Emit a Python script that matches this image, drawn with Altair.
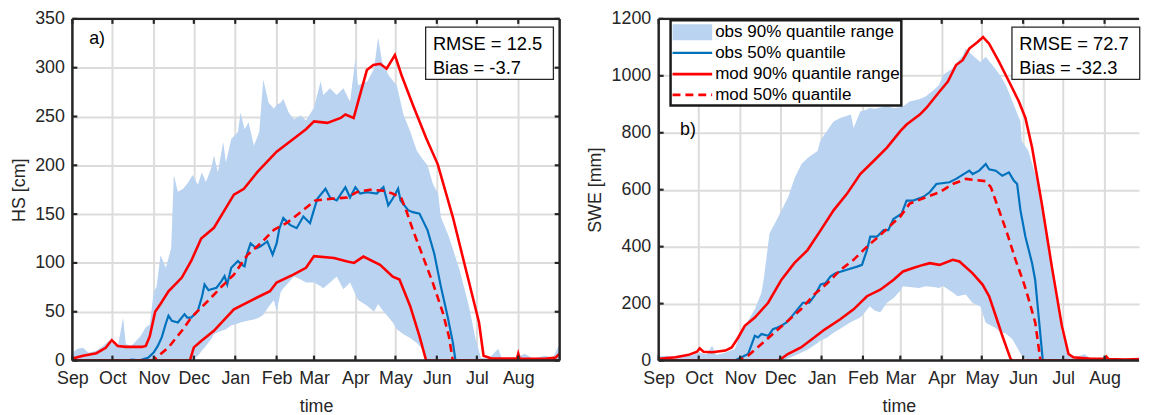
import altair as alt
import pandas as pd

FONT = "Liberation Sans"
AXC = "#262626"
GRID = "#DCDCDC"
BAND = "#B9D3F1"
BLUE = "#0072BD"
RED = "#FF0000"

MONTHS = ["Sep", "Oct", "Nov", "Dec", "Jan", "Feb", "Mar", "Apr", "May", "Jun", "Jul", "Aug"]
MONTH_DAYS = [0, 30, 61, 91, 122, 153, 181, 212, 242, 273, 303, 334]

# ---------------- HS panel (a) ----------------
HS_TICKS = [0, 50, 100, 150, 200, 250, 300, 350]
hs_band_day = [0, 4, 8, 12, 18, 23, 27, 30, 34, 38,
               40, 44, 47, 51, 55, 58, 61, 63, 66, 70,
               74, 76, 79, 83, 87, 90, 94, 97, 100, 104,
               106, 109, 113, 115, 119, 124, 126, 129, 132, 136,
               140, 143, 147, 151, 153, 156, 158, 162, 166, 171,
               175, 181, 186, 188, 193, 198, 203, 208, 212, 214,
               221, 226, 229, 232, 237, 240, 243, 248, 253, 258,
               262, 266, 270, 274, 276, 282, 290, 297, 302, 306,
               312, 319, 322, 330, 339, 345, 354, 360, 365]
hs_band_hi = [8, 12, 13, 8, 10, 15, 20, 18, 14, 44,
              17, 15, 19, 25, 34, 37, 71, 75, 108, 95,
              115, 190, 173, 176, 183, 190, 180, 193, 183, 197,
              210, 193, 224, 203, 227, 234, 254, 237, 244, 220,
              234, 288, 264, 258, 262, 264, 268, 254, 247, 251,
              246, 259, 286, 272, 279, 272, 279, 265, 309, 282,
              286, 299, 331, 306, 292, 287, 282, 252, 235, 215,
              207, 200, 181, 171, 147, 127, 93, 56, 22, 3,
              2, 12, 1, 2, 7, 2, 5, 3, 17]
hs_band_lo = [0, 0, 0, 0, 0, 0, 0, 0, 0, 0,
              0, 0, 0, 0, 0, 0, 0, 0, 0, 0,
              0, 0, 0, 0, 0, 0, 5, 10, 15, 22,
              27, 29, 31, 32, 36, 38, 39, 40, 41, 42,
              44, 47, 55, 62, 50, 70, 74, 80, 86, 83,
              80, 80, 76, 74, 80, 86, 73, 80, 68, 62,
              56, 50, 58, 52, 44, 39, 32, 27, 23, 18,
              12, 0, 0, 0, 0, 0, 0, 0, 0, 0,
              0, 0, 0, 0, 0, 0, 0, 0, 0]

hs_obs50_day = [0, 40, 45, 50, 57, 61, 64, 67, 70, 72, 74.5, 79, 84, 86, 89, 92, 94, 97, 99, 102,
                104, 108, 111, 114, 116, 119, 124, 127, 129, 131, 133.5, 138, 141, 146, 150, 153, 155, 158,
                163, 168, 173, 178, 180, 183.5, 189.6, 193, 198, 204.5, 208, 212, 215.6, 220.6, 228, 233,
                236.6, 240, 244, 245.8, 251.5, 255, 260, 266, 271, 276, 281, 285, 287, 365]
hs_obs50 = [0, 0, 1, 0, 3, 8.5, 15, 24, 38, 46, 40.7, 39, 47.5, 44, 44, 48, 51, 65, 78, 72,
            73, 74.6, 80, 86.5, 78, 95, 102, 98, 96.6, 110, 120, 115, 117, 122, 108.5, 120, 135, 146,
            139, 135.6, 147.5, 140.7, 150, 165.7, 176, 167, 164, 177.6, 167, 177.6, 171, 172.5, 171, 177.6,
            159, 166, 176, 164, 154, 152, 150.5, 133.6, 110, 76, 45.7, 18.6, 0, 0]

hs_modhi_day = [0, 8, 18, 25, 29.5, 34, 40, 52, 55, 58, 62, 66, 72, 82, 89, 96.5, 106, 121, 128.5,
                138.5, 153, 165.5, 175, 181, 191, 201, 204.5, 210.7, 214, 220.6, 225.5, 230.5, 235.4,
                241.6, 246.5, 255, 265, 273.7, 285, 294.8, 304.6, 308, 314.5, 333, 334, 335, 354, 362, 365]
hs_modhi = [2, 5, 7.5, 13, 21, 15, 14, 14, 15, 25, 50, 58, 71, 85, 102, 125, 136, 170, 176,
            193, 214, 227, 237, 245, 243.5, 248.5, 252, 248.5, 265, 297.6, 302.7, 304, 299,
            313, 292.5, 262, 228, 201, 147, 93, 39, 5, 2, 2, 7, 2, 1.7, 3, 7]

hs_modlo_day = [0, 88, 91, 96.5, 106, 121, 136, 148, 153, 165.5, 175, 181, 196, 206, 211, 218,
                230.5, 240, 245, 253, 260, 265, 365]
hs_modlo = [0, 0, 13.5, 20, 30.5, 52.5, 63, 71, 80, 88, 95, 107, 105, 101.5, 100, 106.5,
            98, 86, 83, 56, 25, 0, 0]

hs_mod50_day = [0, 60, 63, 72, 82, 89, 101.5, 111, 121, 131, 141, 151, 160.6, 170, 182, 196, 206,
                213, 223, 233, 240, 246.5, 250, 255, 262.6, 270, 277.5, 282, 285, 365]
hs_mod50 = [0, 0, 3, 13.5, 30.5, 44, 61, 74.6, 88, 108, 120, 134, 141, 151, 164, 166, 167,
            172.5, 175, 174, 171, 166, 154, 134, 106.5, 79.5, 49, 25, 0, 0]

# ---------------- SWE panel (b) ----------------
SWE_TICKS = [0, 200, 400, 600, 800, 1000, 1200]
swe_band_day = [0, 6, 12, 18, 24, 30, 36, 40, 43, 48,
                54, 57, 62, 66, 72, 77, 79, 83, 87, 92,
                97, 102, 107, 112, 119, 121, 126, 131, 136, 144,
                146, 151, 155, 158, 162, 166, 171, 176, 181, 183,
                188, 195, 200, 206, 210, 213, 220, 224, 228, 230,
                235, 241, 245, 252, 256, 260, 265, 268, 271, 272,
                277, 282, 287, 292, 297, 302, 307, 312, 319, 324,
                330, 340, 350, 362]
swe_band_hi = [15, 17, 14, 20, 17, 28, 22, 52, 20, 25,
               35, 40, 110, 133, 180, 238, 296, 446, 481, 527,
               574, 643, 690, 713, 736, 771, 806, 840, 852, 864,
               817, 875, 880, 887, 884, 889, 893, 887, 890, 893,
               910, 918, 927, 950, 968, 1003, 1026, 1050, 1072, 1096,
               1072, 1049, 1067, 1026, 1000, 968, 910, 875, 840, 771,
               736, 655, 551, 388, 238, 98, 17, 10, 23, 5,
               6, 5, 3, 4]
swe_band_lo = [0, 0, 0, 0, 0, 0, 0, 0, 0, 0,
               0, 0, 0, 0, 0, 0, 0, 0, 0, 0,
               8, 17, 28, 40, 62, 70, 80, 98, 112, 135,
               140, 151, 172, 191, 175, 170, 203, 220, 245, 261,
               258, 255, 261, 258, 255, 262, 240, 226, 230, 232,
               203, 190, 133, 115, 100, 95, 75, 50, 25, 15,
               0, 0, 0, 0, 0, 0, 0, 0, 0, 0,
               0, 0, 0, 0]

swe_obs50_day = [0, 57, 62, 67, 72, 74.4, 77, 82, 85.6, 89, 91.7, 95.5, 99, 104, 108, 112.8, 116.5,
                 121.4, 125, 128.8, 132.5, 141, 148.6, 152.3, 156, 158.5, 163.5, 168.4, 172, 175.8,
                 182, 185.7, 190.6, 198, 203, 208, 217.8, 222.8, 232.7, 235.2, 240.1, 245, 247.5,
                 252.5, 257.4, 262.4, 266, 268.5, 271, 274.7, 279.7, 282, 284.6, 287.6, 288, 362]
swe_obs50 = [0, 0, 11.6, 23, 87, 81, 93, 87, 110, 116, 122, 133, 151, 180, 203, 203, 226,
             267, 272, 296, 307, 319, 330, 336, 388, 435, 435, 458, 458, 497,
             516, 562, 562, 574, 591, 620, 626, 638, 667, 655, 667, 690, 672,
             667, 649, 661, 632, 620, 527.5, 435, 342, 284, 156.5, 6, 0, 0]

swe_modhi_day = [0, 12.6, 22.5, 28.7, 30.7, 33.6, 40, 50, 54.7, 59.6, 64.5, 72, 82, 92, 101.6,
                 111.5, 121.4, 131, 141, 151, 161, 171, 181, 185.7, 195.6, 200.5, 210.4, 216.6,
                 222.8, 227.7, 232.7, 238.9, 243, 247.5, 255, 262.4, 269.8, 274.7, 279.7, 287,
                 294.5, 302, 307, 310.6, 324, 334, 335.3, 337, 349, 362]
swe_modhi = [6, 11.6, 20, 31, 43, 31, 29, 35, 46, 81, 122, 151, 203, 284, 342,
             388, 458, 527.5, 585.5, 655, 701, 748, 806, 829, 864, 887, 945, 980,
             1038, 1055, 1096, 1119, 1136, 1113, 1049, 980, 910, 852, 748, 551,
             330, 122, 23, 11.6, 6, 6, 14, 5, 3.5, 6]

swe_modlo_day = [0, 89, 91.7, 96.7, 106.6, 116.5, 124, 136, 146, 156, 166, 176, 183, 190.6, 198,
                 203, 210.4, 220.3, 225.3, 235, 242.6, 247.5, 252.5, 257.4, 263.6, 265, 362]
swe_modlo = [0, 0, 6, 23, 46, 81, 108, 145, 180, 226, 249, 284, 313, 325, 336,
             342, 336, 354, 348, 307, 267, 226, 156.5, 87, 6, 0, 0]

swe_mod50_day = [0, 59.6, 67, 77, 86.8, 96.7, 106.6, 116.5, 126.4, 136.3, 146, 156, 166, 175.8,
                 180.7, 188, 200.5, 210.4, 220.3, 230.2, 237.6, 245, 248.8, 255, 261.1, 267.3,
                 273.5, 277.2, 282.1, 285.8, 286.5, 362]
swe_mod50 = [0, 0, 17, 58, 98.5, 139, 180, 232, 272, 319, 353.6, 400, 440.6, 484,
             504, 551, 574, 591, 620, 638, 634, 630, 609, 527.5, 446, 353.6,
             272, 214.5, 133, 6, 0, 0]

LEGEND_LABELS = ["obs 90% quantile range", "obs 50% quantile",
                 "mod 90% quantile range", "mod 50% quantile"]

H = 345
PX_PER_DAY = 492 / 365.0
FS = 18
LABEL_EXPR = "[" + ",".join("'%s'" % m for m in MONTHS) + "][indexof([" + \
    ",".join(str(d) for d in MONTH_DAYS) + "], datum.value)]"


def df_line(days, vals):
    return pd.DataFrame({"day": days, "val": vals})


def one(**kw):
    return pd.DataFrame({"k": [0], **{k: [v] for k, v in kw.items()}})


def panel(band, lines, ymax, yticks, ytitle, width, label, label_xy, stats,
          title_pad, legend=False, right_border=True):
    xmax = width / PX_PER_DAY
    xscale = alt.Scale(domain=[0, xmax], nice=False, zero=False)
    yscale = alt.Scale(domain=[0, ymax], nice=False, zero=False)
    xaxis = alt.Axis(values=MONTH_DAYS, labelExpr=LABEL_EXPR, title="time", grid=True,
                     gridColor=GRID, gridWidth=2, domain=False, ticks=False,
                     labelPadding=9, titlePadding=10, labelFontSize=FS, titleFontSize=FS,
                     labelFont=FONT, titleFont=FONT, labelColor=AXC, titleColor=AXC,
                     titleFontWeight="normal", labelFlush=False, labelOverlap=False)
    yaxis = alt.Axis(values=yticks, format="d", title=ytitle, grid=True, gridColor=GRID,
                     gridWidth=2, domain=False, ticks=False, labelPadding=8,
                     titlePadding=title_pad, labelFontSize=FS, titleFontSize=FS,
                     labelFont=FONT, titleFont=FONT, labelColor=AXC, titleColor=AXC,
                     titleFontWeight="normal", labelFlush=False, labelOverlap=False)
    X = alt.X("day:Q", scale=xscale, axis=xaxis)
    Y = alt.Y("val:Q", scale=yscale, axis=yaxis)

    layers = []
    bd = pd.DataFrame({"day": band[0], "val": band[1], "lo": band[2]})
    layers.append(alt.Chart(bd).mark_area(color=BAND, opacity=1, clip=True)
                  .encode(x=X, y=Y, y2="lo:Q"))
    obs50, modhi, modlo, mod50 = lines
    layers.append(alt.Chart(df_line(*obs50)).mark_line(color=BLUE, strokeWidth=2.2, clip=True)
                  .encode(x=X, y=Y))
    for s in (modhi, modlo):
        layers.append(alt.Chart(df_line(*s)).mark_line(color=RED, strokeWidth=2.6, clip=True)
                      .encode(x=X, y=Y))
    layers.append(alt.Chart(df_line(*mod50)).mark_line(color=RED, strokeWidth=2.6,
                                                       strokeDash=[8, 5], clip=True)
                  .encode(x=X, y=Y))

    # frame
    frame = [
        dict(x=alt.value(0), x2=alt.value(width), y=alt.value(0)),
        dict(x=alt.value(0), x2=alt.value(width), y=alt.value(H)),
        dict(x=alt.value(0), y=alt.value(0), y2=alt.value(H)),
    ]
    if right_border:
        frame.append(dict(x=alt.value(width), y=alt.value(0), y2=alt.value(H)))
    for f in frame:
        layers.append(alt.Chart(one()).mark_rule(color=AXC, strokeWidth=2.5).encode(**f))

    # inward ticks
    mt = pd.DataFrame({"day": [d for d in MONTH_DAYS if d <= xmax]})
    layers.append(alt.Chart(mt).mark_rule(color=AXC, strokeWidth=2.2)
                  .encode(x=X, y=alt.value(H), y2=alt.value(H - 5)))
    layers.append(alt.Chart(mt).mark_rule(color=AXC, strokeWidth=2.2)
                  .encode(x=X, y=alt.value(0), y2=alt.value(5)))
    yt = pd.DataFrame({"val": yticks})
    layers.append(alt.Chart(yt).mark_rule(color=AXC, strokeWidth=2.2)
                  .encode(y=Y, x=alt.value(0), x2=alt.value(5)))
    if right_border:
        layers.append(alt.Chart(yt).mark_rule(color=AXC, strokeWidth=2.2)
                      .encode(y=Y, x=alt.value(width - 5), x2=alt.value(width)))

    # panel label
    layers.append(alt.Chart(one(t=label)).mark_text(font=FONT, fontSize=FS, color="black",
                                                    align="center", baseline="middle")
                  .encode(x=alt.value(label_xy[0]), y=alt.value(label_xy[1]), text="t:N"))

    # stats box
    layers.append(alt.Chart(one()).mark_rect(fill="white", stroke=AXC, strokeWidth=1.3)
                  .encode(x=alt.value(356.7), x2=alt.value(485.7),
                          y=alt.value(8.3), y2=alt.value(61)))
    for i, s in enumerate(stats):
        layers.append(alt.Chart(one(t=s)).mark_text(font=FONT, fontSize=18.5, color="black",
                                                    align="left", baseline="middle")
                      .encode(x=alt.value(364), y=alt.value(25 + 24.3 * i), text="t:N"))

    if legend:
        layers.append(alt.Chart(one()).mark_rect(fill="white", stroke="#1a1a1a", strokeWidth=2.5)
                      .encode(x=alt.value(12), x2=alt.value(245),
                              y=alt.value(1.5), y2=alt.value(87.5)))
        layers.append(alt.Chart(one()).mark_rect(fill=BAND)
                      .encode(x=alt.value(14), x2=alt.value(54),
                              y=alt.value(5.5), y2=alt.value(21.5)))
        rows_y = [13.3, 34.3, 55.8, 76.7]
        layers.append(alt.Chart(one()).mark_rule(color=BLUE, strokeWidth=2.2)
                      .encode(x=alt.value(14), x2=alt.value(54), y=alt.value(rows_y[1])))
        layers.append(alt.Chart(one()).mark_rule(color=RED, strokeWidth=2.6)
                      .encode(x=alt.value(14), x2=alt.value(54), y=alt.value(rows_y[2])))
        layers.append(alt.Chart(one()).mark_rule(color=RED, strokeWidth=2.6, strokeDash=[8, 5])
                      .encode(x=alt.value(14), x2=alt.value(54), y=alt.value(rows_y[3])))
        for lab, yy in zip(LEGEND_LABELS, rows_y):
            layers.append(alt.Chart(one(t=lab)).mark_text(font=FONT, fontSize=17.2, color="black",
                                                          align="left", baseline="middle")
                          .encode(x=alt.value(57), y=alt.value(yy), text="t:N"))

    return alt.layer(*layers).properties(width=width, height=H)


left = panel((hs_band_day, hs_band_hi, hs_band_lo),
             [(hs_obs50_day, hs_obs50), (hs_modhi_day, hs_modhi),
              (hs_modlo_day, hs_modlo), (hs_mod50_day, hs_mod50)],
             350, HS_TICKS, "HS [cm]", 492, "a)", (25, 20.5),
             ["RMSE = 12.5", "Bias = -3.7"], 6)

right = panel((swe_band_day, swe_band_hi, swe_band_lo),
              [(swe_obs50_day, swe_obs50), (swe_modhi_day, swe_modhi),
               (swe_modlo_day, swe_modlo), (swe_mod50_day, swe_mod50)],
              1200, SWE_TICKS, "SWE [mm]", 485, "b)", (29.5, 112.5),
              ["RMSE = 72.7", "Bias = -32.3"], 6.4, legend=True, right_border=False)

chart = alt.hconcat(left, right, spacing=25).properties(
    padding={"left": 2, "top": 0, "right": 0, "bottom": 0}
).configure_view(stroke=None)

chart.save("out.html", embed_options={"renderer": "svg", "actions": False})
